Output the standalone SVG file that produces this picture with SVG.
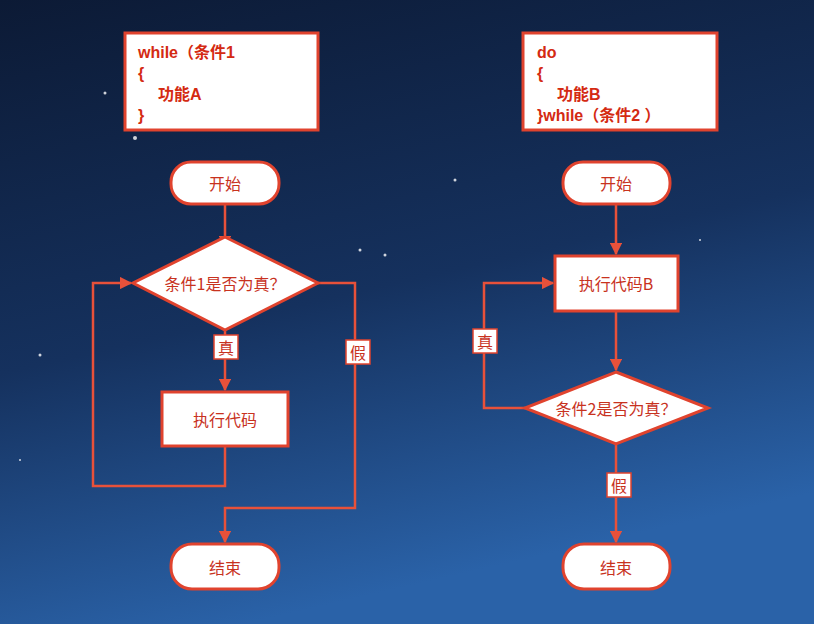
<svg xmlns="http://www.w3.org/2000/svg" width="814" height="624" viewBox="0 0 814 624">
<defs>
<linearGradient id="bg" x1="0" y1="0" x2="0.3" y2="1"><stop offset="0" stop-color="#0c1a35"/><stop offset="0.55" stop-color="#15315e"/><stop offset="1" stop-color="#2a62a8"/></linearGradient>
<marker id="ar" viewBox="0 0 10 10" refX="9" refY="5" markerWidth="5" markerHeight="5" orient="auto"><path d="M0,0L10,5L0,10z" fill="#e8513a"/></marker>
<style>
.s{fill:#fff;stroke:#e0432e;stroke-width:3}
.c{fill:none;stroke:#e8513a;stroke-width:2.5}
.t{font-family:"Noto Sans CJK SC",sans-serif;font-size:16px;fill:#c8321e;text-anchor:middle;dominant-baseline:central}
.code{font-family:"Liberation Sans","Noto Sans CJK SC",sans-serif;font-size:16px;font-weight:bold;fill:#d42a12}
.lb{fill:#fff;stroke:#e0432e;stroke-width:1.5}
</style>
</defs>
<rect width="814" height="624" fill="url(#bg)"/>
<g fill="#fff" opacity="0.8"><circle cx="105" cy="93" r="1.5"/><circle cx="135" cy="138" r="2"/><circle cx="360" cy="250" r="1.5"/><circle cx="385" cy="255" r="1.5"/><circle cx="40" cy="355" r="1.5"/><circle cx="455" cy="180" r="1.5"/><circle cx="20" cy="460" r="1"/><circle cx="700" cy="240" r="1"/></g>
<g id="codeA"><rect class="s" x="125" y="33" width="193" height="97"/>
<text class="code" x="138" y="58">while（条件1</text><text class="code" x="138" y="79">{</text><text class="code" x="158" y="100">功能A</text><text class="code" x="138" y="121">}</text></g>
<g id="codeB"><rect class="s" x="523" y="33" width="194" height="97"/>
<text class="code" x="537" y="58">do</text><text class="code" x="537" y="79">{</text><text class="code" x="557" y="100">功能B</text><text class="code" x="537" y="121">}while（条件2 ）</text></g>
<g id="connectors">
<path class="c" d="M225,204V247" marker-end="url(#ar)"/>
<path class="c" d="M225,330V390" marker-end="url(#ar)"/>
<path class="c" d="M225,446V486H93V283H131" marker-end="url(#ar)"/>
<path class="c" d="M318,283H355V508H225V542" marker-end="url(#ar)"/>
<path class="c" d="M616,204V254" marker-end="url(#ar)"/>
<path class="c" d="M616,311V370" marker-end="url(#ar)"/>
<path class="c" d="M525,408H484V283H553" marker-end="url(#ar)"/>
<path class="c" d="M616,444V542" marker-end="url(#ar)"/>
<rect class="lb" x="214" y="335" width="24" height="24"/><text class="t" x="226" y="347">真</text>
<rect class="lb" x="346" y="340" width="24" height="24"/><text class="t" x="358" y="352">假</text>
<rect class="lb" x="473" y="329" width="24" height="24"/><text class="t" x="485" y="341">真</text>
<rect class="lb" x="607" y="473" width="24" height="24"/><text class="t" x="619" y="485">假</text>
</g>
<g id="startA"><rect class="s" x="171" y="162" width="108" height="42" rx="20"/><text class="t" x="225" y="183">开始</text></g>
<g id="condA"><polygon class="s" points="225,237 318,283 225,330 133,283"/><text class="t" x="225" y="283">条件1是否为真？</text></g>
<g id="execA"><rect class="s" x="162" y="392" width="126" height="54"/><text class="t" x="225" y="419">执行代码</text></g>
<g id="endA"><rect class="s" x="171" y="544" width="108" height="45" rx="21"/><text class="t" x="225" y="567">结束</text></g>
<g id="startB"><rect class="s" x="563" y="162" width="107" height="42" rx="20"/><text class="t" x="616" y="183">开始</text></g>
<g id="execB"><rect class="s" x="555" y="256" width="123" height="55"/><text class="t" x="616" y="283">执行代码B</text></g>
<g id="condB"><polygon class="s" points="616,372 708,408 616,444 525,408"/><text class="t" x="616" y="408">条件2是否为真？</text></g>
<g id="endB"><rect class="s" x="563" y="544" width="107" height="45" rx="21"/><text class="t" x="616" y="567">结束</text></g>
</svg>
